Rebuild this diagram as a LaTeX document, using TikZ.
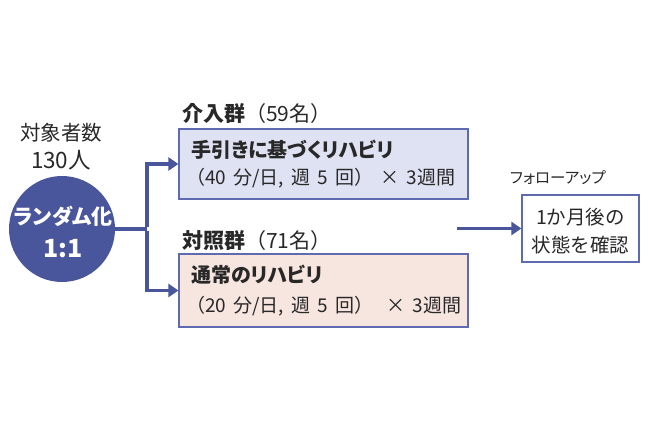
\documentclass[tikz,border=0pt]{standalone}
\usepackage{fontspec}
\setmainfont{Noto Sans CJK JP}
\newfontfamily\pfont[RawFeature=+palt]{Noto Sans CJK JP}
\usetikzlibrary{arrows.meta}
\definecolor{mainblue}{RGB}{74,86,156}
\definecolor{boxline}{RGB}{96,106,176}
\definecolor{boxafill}{RGB}{223,226,243}
\definecolor{boxbfill}{RGB}{247,229,223}
\definecolor{txt}{RGB}{40,40,40}
\newcommand\gp{\hspace{0.38em}}
\tikzset{
  conn/.style={draw=mainblue, line width=3.6pt},
  arr/.style={conn, -{Triangle[length=10pt,width=13pt]}},
  groupbox/.style={draw=boxline, line width=1.2pt, minimum width=289pt, inner sep=0pt},
  ttl/.style={anchor=west, inner sep=0pt, text=txt, font=\pfont\fontsize{20}{22}\selectfont\bfseries},
  sub/.style={anchor=west, inner sep=0pt, text=txt, font=\fontsize{19}{21}\selectfont},
  lbl/.style={anchor=west, inner sep=0pt, text=txt, font=\fontsize{21}{23}\selectfont},
  plain/.style={inner sep=0pt, text=txt, font=\fontsize{19.5}{22}\selectfont},
}
\begin{document}
\begin{tikzpicture}[x=1pt,y=-1pt]
\useasboundingbox (0,0) rectangle (649,433);
% left
\node[plain, font=\fontsize{20.5}{23}\selectfont] (n1) at (61,133) {対象者数};
\node[plain, font=\fontsize{22.5}{25}\selectfont] (n2) at (61,160) {130人};
\node[circle, fill=mainblue, minimum size=106pt, inner sep=0pt] (circ) at (62,229) {};
\node[inner sep=0pt, text=white, font=\pfont\fontsize{21}{23}\selectfont\bfseries] (r1) at (63,216) {ランダム化};
\node[inner sep=0pt, text=white, font=\fontsize{25}{28}\selectfont\bfseries] (r2) at (63,249) {1:1};
% boxes
\node[groupbox, fill=boxafill, minimum height=70pt] (boxa) at (323.5,164) {};
\node[groupbox, fill=boxbfill, minimum height=73pt] (boxb) at (323.5,290.5) {};
\node[lbl] (la) at (182,113) {\textbf{介入群}（59名）};
\node[lbl] (lb) at (182,241) {\textbf{対照群}（71名）};
\node[ttl] (ta) at (191,150) {手引きに基づくリハビリ};
\node[sub] (sa) at (186,178) {（40\gp 分/日,\gp 週\gp 5\gp 回）\gp ×\gp 3週間};
\node[ttl] (tb) at (191,275) {通常のリハビリ};
\node[sub] (sb) at (186,306) {（20\gp 分/日,\gp 週\gp 5\gp 回）\gp\hspace{0.3em}×\gp 3週間};
% follow-up
\node[draw=boxline, line width=1.2pt, fill=white, minimum width=117pt, minimum height=67pt, inner sep=0pt] (fu) at (580.5,228.5) {};
\node[inner sep=0pt, text=txt, font=\pfont\fontsize{15.5}{18}\selectfont] (fl) at (558,178) {フォローアップ};
\node[plain] (f1) at (580.5,217) {1か月後の};
\node[plain] (f2) at (580.5,245) {状態を確認};
% connectors
\coordinate (j) at (147,229);
\coordinate (a0) at (457,228.5);
\draw[conn] (circ.east) -- (j);
\draw[arr] ([yshift=1.8pt]j) |- (boxa.west);
\draw[arr] ([yshift=-1.8pt]j) |- (boxb.west);
\draw[arr] (a0) -- (fu.west);
\end{tikzpicture}
\end{document}
